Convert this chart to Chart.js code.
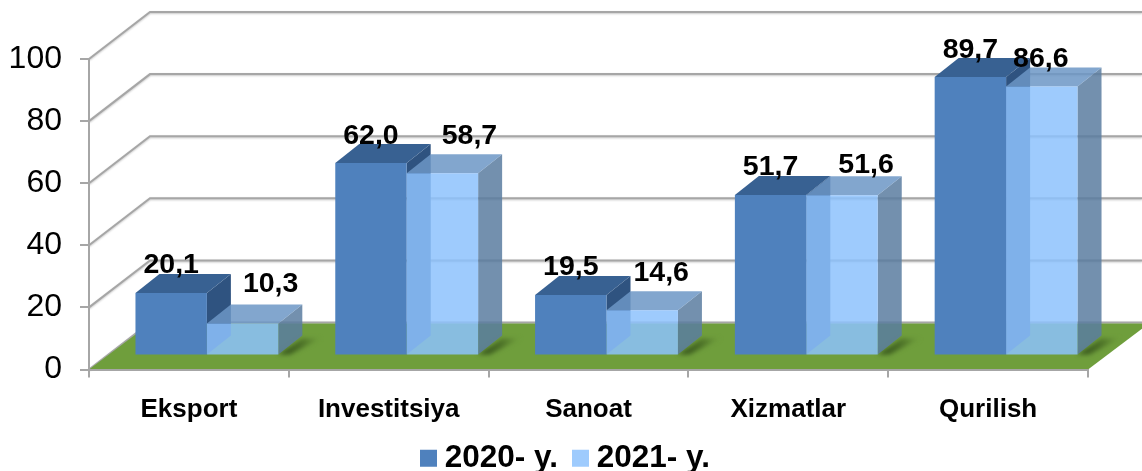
<!DOCTYPE html>
<html><head><meta charset="utf-8">
<style>html,body{margin:0;padding:0;background:#fff}canvas{display:block;filter:blur(.45px)}</style>
<script src="https://cdn.jsdelivr.net/npm/chart.js@4"></script>
</head><body>
<canvas id="c" width="1142" height="471"></canvas>
<script>
const categories = ['Eksport','Investitsiya','Sanoat','Xizmatlar','Qurilish'];
const seriesNames = ['2020- y.','2021- y.'];
const values2020 = [20.1,62.0,19.5,51.7,89.7];
const values2021 = [10.3,58.7,14.6,51.6,86.6];
const yTicks = [0,20,40,60,80,100];

// label nudges (layout only)
const labelDx = [[0,0,0,0,0],[28,27,19,24,-1]];
const labelDy = [[-28,-27,-28,-28,-27],[-39,-37,-37,-30,-27]];

const FONT = '"Liberation Sans", Arial, sans-serif';
const GRID = '#A6A6A6';
const WALL = {dx:61, dy:-47};       // depth of the whole plot box
const FRONT = {dx:18, dy:-14};      // bars stand this far back on the floor
const BAR = {dx:24, dy:-19};        // depth of one bar
const LEGEND_SHIFT = 25;
const faces = [
  {top:'#386192', side:'#2F5380'},
  {top:'rgba(108,150,197,.85)', side:'rgba(90,125,160,.85)'}
];

function poly(ctx, pts, fill){
  ctx.beginPath();
  pts.forEach((p,i)=> i ? ctx.lineTo(p[0],p[1]) : ctx.moveTo(p[0],p[1]));
  ctx.closePath();
  ctx.fillStyle = fill;
  ctx.fill();
}

const box3d = {
  id:'box3d',
  afterLayout(chart){
    chart.scales.x.bottom = chart.height;   // tick labels may use the legend's spare band
    chart.legend.left += LEGEND_SHIFT;
    chart.legend.right += LEGEND_SHIFT;
  },
  beforeDraw(chart){
    const {ctx, scales:{x,y}, width} = chart;
    ctx.save();
    ctx.strokeStyle = GRID;
    ctx.lineWidth = 2;
    ctx.shadowColor = 'rgba(0,0,0,.22)';
    ctx.shadowBlur = 2;
    ctx.shadowOffsetY = 1;
    yTicks.forEach(v=>{
      const py = y.getPixelForValue(v);
      ctx.beginPath();
      ctx.moveTo(x.left, py);
      ctx.lineTo(x.left+WALL.dx, py+WALL.dy);
      ctx.lineTo(width, py+WALL.dy);
      ctx.stroke();
    });
    ctx.restore();
    const b = y.getPixelForValue(0);
    poly(ctx, [[x.left,b],[x.right,b],[x.right+WALL.dx,b+WALL.dy+1],[x.left+WALL.dx,b+WALL.dy+1]], '#6F9E3C');
  },
  beforeDatasetsDraw(chart){
    const {ctx} = chart;
    // floor shadows behind the right bar of each group
    const lastMeta = chart.getDatasetMeta(1);
    ctx.save();
    ctx.translate(FRONT.dx, FRONT.dy);
    lastMeta.data.forEach(el=>{
      const r = el.x+el.width/2, b = el.base;
      const g = ctx.createLinearGradient(r,0,r+42,0);
      g.addColorStop(0,'#33501c');
      g.addColorStop(.5,'#4a6e26');
      g.addColorStop(1,'#6F9E3C');
      ctx.save();
      ctx.filter = 'blur(2.2px)';
      poly(ctx, [[r,b],[r+24,b-16],[r+42,b-16],[r+12,b]], g);
      ctx.restore();
    });
    ctx.restore();
    // datasets in series order, each as side + top + real bar element
    [0,1].forEach(i=>{
      const meta = chart.getDatasetMeta(i);
      ctx.save();
      ctx.translate(FRONT.dx, FRONT.dy);
      meta.data.forEach(el=>{
        const l = el.x-el.width/2, r = el.x+el.width/2, t = el.y, b = el.base;
        poly(ctx, [[r,t],[r+BAR.dx,t+BAR.dy],[r+BAR.dx,b+BAR.dy],[r,b]], faces[i].side);
        poly(ctx, [[l,t],[r,t],[r+BAR.dx,t+BAR.dy],[l+BAR.dx,t+BAR.dy]], faces[i].top);
      });
      meta.controller.draw();
      ctx.restore();
    });
    return false;
  },
  afterDraw(chart){
    const {ctx} = chart;
    ctx.save();
    ctx.font = 'bold 28.5px '+FONT;
    ctx.fillStyle = '#000';
    ctx.textAlign = 'center';
    ctx.textBaseline = 'middle';
    [values2020, values2021].forEach((vals,i)=>{
      const meta = chart.getDatasetMeta(i);
      vals.forEach((v,j)=>{
        const el = meta.data[j];
        ctx.fillText(v.toFixed(1).replace('.',','), el.x+FRONT.dx+labelDx[i][j], el.y+FRONT.dy+labelDy[i][j]);
      });
    });
    ctx.restore();
  }
};

new Chart(document.getElementById('c'), {
  type:'bar',
  plugins:[box3d],
  data:{
    labels:categories,
    datasets:[
      {label:seriesNames[0], data:values2020, backgroundColor:'#4F81BD'},
      {label:seriesNames[1], data:values2021, backgroundColor:'rgba(141,194,253,.85)'}
    ]
  },
  options:{
    responsive:false,
    animation:false,
    layout:{padding:{left:0,right:54,top:59,bottom:-13}},
    categoryPercentage:.715,
    barPercentage:1,
    plugins:{
      tooltip:{enabled:false},
      legend:{
        position:'bottom',
        labels:{
          usePointStyle:true,
          pointStyle:'rect',
          boxWidth:1,
          boxHeight:17,
          padding:22,
          color:'#000',
          font:{family:FONT,size:31.5,weight:'bold'}
        }
      }
    },
    scales:{
      x:{
        afterFit(s){ s.height = 51; },
        grid:{drawOnChartArea:false,tickLength:8,color:GRID,lineWidth:2},
        border:{color:GRID,width:2},
        ticks:{color:'#000',padding:17,maxRotation:0,font:{family:FONT,size:26,weight:'bold'}}
      },
      y:{
        min:0,max:100,
        afterFit(s){ s.width = 89; },
        grid:{drawOnChartArea:false,tickLength:9,color:GRID,lineWidth:2},
        border:{color:GRID,width:2},
        ticks:{stepSize:20,color:'#000',padding:18,font:{family:FONT,size:32}}
      }
    }
  }
});
</script>
</body></html>
